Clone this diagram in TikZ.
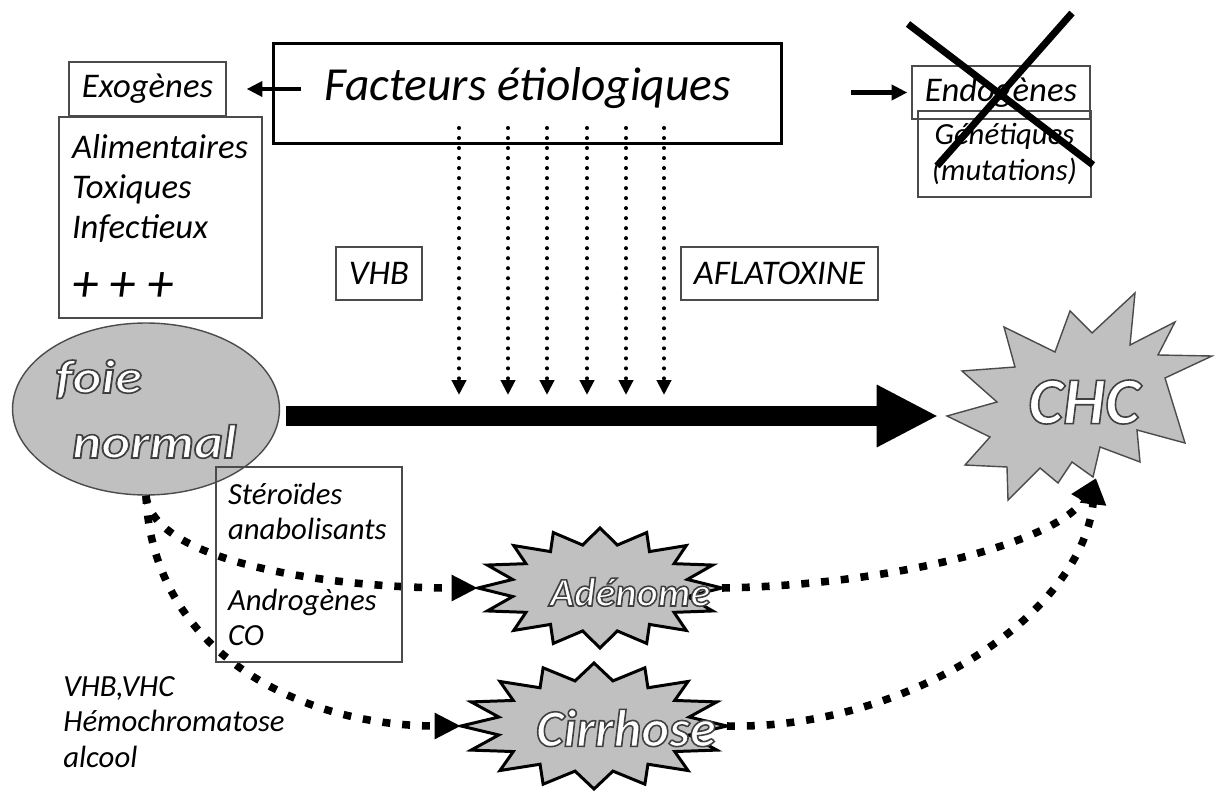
\documentclass[tikz,border=0pt]{standalone}
\usepackage{fontspec}
\setmainfont{Carlito}
\usepackage{graphicx}
\usetikzlibrary{shapes.geometric,arrows.meta}

\definecolor{shapegray}{RGB}{192,192,192}
\definecolor{edgegray}{RGB}{75,75,75}
% white letters with a dark edge
\newcommand{\wordart}[1]{\special{pdf:literal direct q 2 Tr 0.25 0.25 0.25 RG 0.9 w}#1\special{pdf:literal direct Q}}

\begin{document}
\begin{tikzpicture}[x=0.02cm,y=0.02cm,
  every node/.style={font=\itshape\fontsize{19.7}{22.8}\selectfont},
  box/.style={draw=edgegray,line width=0.7pt,inner sep=0pt},
  smalltext/.style={font=\itshape\fontsize{17.5}{20}\selectfont},
  burst/.style={fill=shapegray,draw=black,line width=1.7pt,line join=miter},
  dotarrow/.style={line width=2.3pt,line cap=round,dash pattern=on 0pt off 5.7pt,-{Triangle[length=8.5pt,width=8pt]}},
  dasharrow/.style={line width=4.3pt,dash pattern=on 4.5pt off 6.8pt,-{Triangle[length=15pt,width=14pt]}},
  thinarrow/.style={line width=2.3pt,-{Triangle[length=9pt,width=8.5pt]}}]
\useasboundingbox (0,0) rectangle (1215,-794);

% top row
\node[box,draw=black,line width=1.7pt,minimum width=10.18cm,minimum height=2.02cm,text depth=11pt,font=\itshape\fontsize{27}{32}\selectfont] (fact) at (527.5,-93.5) {Facteurs étiologiques};
\node[box,minimum width=3.14cm,minimum height=1.08cm] (exo) at (147.5,-89) {Exogènes};
\node[box,minimum width=4.06cm,minimum height=4.02cm,text width=3.54cm,align=left] (exolist) at (160.5,-217.5) {Alimentaires\\Toxiques\\Infectieux\\[13pt]{\fontsize{30}{32}\selectfont + + +}};
\node[box,minimum width=3.56cm,minimum height=1.06cm] (endo) at (1001,-92.5) {Endogènes};
\node[box,smalltext,minimum width=3.46cm,minimum height=1.72cm,align=center] (gene) at (1004.5,-154) {Génétiques\\(mutations)};

\coordinate (exoS) at ([xshift=0.58cm]fact.west);
\draw[thinarrow] (exoS |- exo.east) -- ([xshift=0.4cm]exo.east);
\coordinate (endoS) at ([xshift=1.36cm]fact.east);
\draw[thinarrow] (endoS |- endo.west) -- ([xshift=-0.08cm]endo.west);

% cross over the endogenous side
\draw[line width=4pt] (908,-24) -- (1093,-165);
\draw[line width=4pt] (1072,-13) -- (937,-166);

\node[box,minimum width=1.72cm,minimum height=1.06cm] (vhb) at (379,-273.5) {VHB};
\node[box,minimum width=3.94cm,minimum height=1.06cm] (afla) at (779.5,-273.5) {AFLATOXINE};

\foreach \x [count=\i] in {459,508,547,587,626,664} {
  \coordinate (top\i) at (\x,-128);
  \coordinate (bot\i) at (\x,-395);
  \draw[dotarrow] (top\i) -- (bot\i);
}

% liver
\node[ellipse,fill=shapegray,draw=edgegray,line width=0.8pt,minimum width=5.34cm,minimum height=3.44cm,inner sep=0pt,align=left,text=white,font=\bfseries\itshape\fontsize{27}{37}\selectfont] (foie) at (146,-409) {\wordart{\scalebox{1.16}[1]{foie}}\\\hspace*{0.34cm}\wordart{\scalebox{1.16}[1]{normal}}};

% CHC
\draw[burst,draw=edgegray,line width=0.8pt] (947,-416) -- (997,-402) -- (962,-371) -- (1015,-367) -- (1004,-327) -- (1055,-352) -- (1070,-311) -- (1092,-333) -- (1135,-293) -- (1130,-345) -- (1175,-322) -- (1158,-355) -- (1212,-356) -- (1165,-378) -- (1185,-443) -- (1137,-430) -- (1140,-462) -- (1100,-447) -- (1093,-477) -- (1072,-462) -- (1058,-483) -- (1040,-468) -- (1008,-500) -- (1007,-467) -- (965,-465) -- (990,-437) -- cycle;
\node[text=white,font=\bfseries\itshape\fontsize{38}{44}\selectfont] (chc) at (1084,-402) {\wordart{CHC}};
\coordinate (chcW) at (947,-416);
\coordinate (chcS) at (1096,-478);

\draw[line width=11.4pt,-{Triangle[length=35pt,width=33pt]},shorten <=3.4pt,shorten >=5pt] (foie.east |- chcW) -- (chcW);

% adenome and cirrhose
\draw[burst] plot[variable=\t,samples at={0,...,31}] ({600+122*(1-0.27*mod(\t,2))*cos(\t*11.25)},{-588+60*(1-0.27*mod(\t,2))*sin(\t*11.25)}) -- cycle;
\coordinate (adW) at (478,-588);
\coordinate (adE) at (722,-588);
\draw[burst] plot[variable=\t,samples at={0,...,31}] ({594+133*(1-0.27*mod(\t,2))*cos(\t*11.25)},{-726+63*(1-0.27*mod(\t,2))*sin(\t*11.25)}) -- cycle;
\coordinate (ciW) at (461,-726);
\coordinate (ciE) at (727,-726);

\draw[dasharrow] (foie.south) .. controls +(7,-67) and +(-147,0) .. (adW);
\draw[dasharrow] (foie.south) .. controls +(7,-157) and +(-161,0) .. (ciW);
\draw[dasharrow] (adE) .. controls +(178,3) and +(-36,-62) .. (chcS);
\draw[dasharrow] (ciE) .. controls +(173,-4) and +(-16,-142) .. (chcS);

\node[text=white,font=\bfseries\itshape\fontsize{23}{27}\selectfont] (adenome) at (630,-592) {\wordart{Adénome}};
\node[text=white,font=\bfseries\itshape\fontsize{30}{36}\selectfont] (cirrhose) at (626,-728) {\wordart{Cirrhose}};

% bottom left labels
\node[box,smalltext,minimum width=3.72cm,minimum height=3.9cm,text width=3.24cm,align=left] (stero) at (309,-564.5) {Stéroïdes\\anabolisants\\[20pt]Androgènes\\CO};
\node[smalltext,align=left,anchor=west,inner sep=0pt] (causes) at (63,-722) {VHB,VHC\\Hémochromatose\\alcool};
\end{tikzpicture}
\end{document}
